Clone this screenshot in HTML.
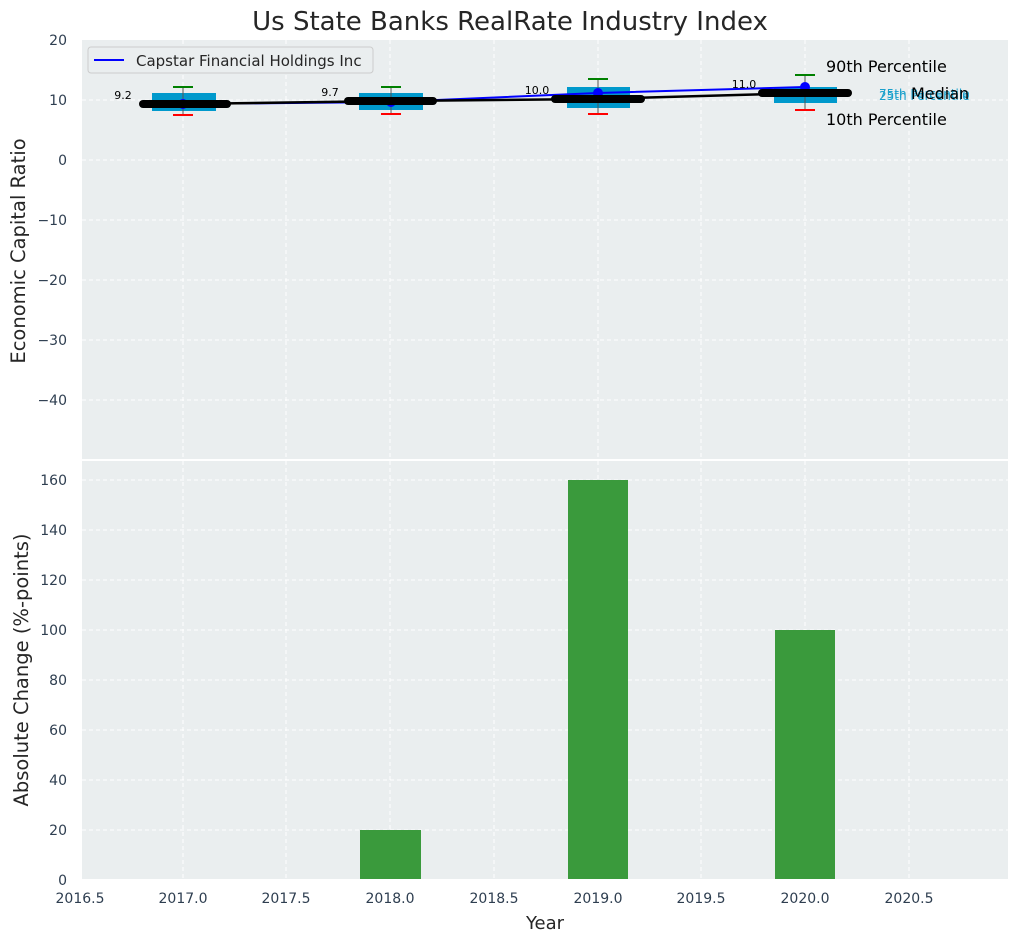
<!DOCTYPE html><html><head><style>body{margin:0;background:#fff}svg{display:block;font-family:"DejaVu Sans","Liberation Sans",sans-serif}</style></head><body>
<svg width="1019" height="942" xmlns="http://www.w3.org/2000/svg">
<rect width="1019" height="942" fill="#fff"/>
<text x="510" y="30" font-size="26" text-anchor="middle" fill="#262626">Us State Banks RealRate Industry Index</text>
<rect x="82" y="40" width="926" height="419" fill="#eaeeef"/>
<rect x="82" y="461" width="926" height="418" fill="#eaeeef"/>
<g stroke="#fff" stroke-dasharray="4,3" stroke-width="1">
<line x1="183" y1="40" x2="183" y2="459"/><line x1="286" y1="40" x2="286" y2="459"/><line x1="390" y1="40" x2="390" y2="459"/><line x1="494" y1="40" x2="494" y2="459"/><line x1="598" y1="40" x2="598" y2="459"/><line x1="701" y1="40" x2="701" y2="459"/><line x1="805" y1="40" x2="805" y2="459"/><line x1="909" y1="40" x2="909" y2="459"/>
<line x1="82" y1="100" x2="1008" y2="100"/><line x1="82" y1="160" x2="1008" y2="160"/><line x1="82" y1="220" x2="1008" y2="220"/><line x1="82" y1="280" x2="1008" y2="280"/><line x1="82" y1="340" x2="1008" y2="340"/><line x1="82" y1="400" x2="1008" y2="400"/>
<line x1="183" y1="461" x2="183" y2="879"/><line x1="286" y1="461" x2="286" y2="879"/><line x1="390" y1="461" x2="390" y2="879"/><line x1="494" y1="461" x2="494" y2="879"/><line x1="598" y1="461" x2="598" y2="879"/><line x1="701" y1="461" x2="701" y2="879"/><line x1="805" y1="461" x2="805" y2="879"/><line x1="909" y1="461" x2="909" y2="879"/>
<line x1="82" y1="480" x2="1008" y2="480"/><line x1="82" y1="530" x2="1008" y2="530"/><line x1="82" y1="580" x2="1008" y2="580"/><line x1="82" y1="630" x2="1008" y2="630"/><line x1="82" y1="680" x2="1008" y2="680"/><line x1="82" y1="730" x2="1008" y2="730"/><line x1="82" y1="780" x2="1008" y2="780"/><line x1="82" y1="830" x2="1008" y2="830"/>
</g>
<g fill="#0099cc">
<rect x="152" y="93" width="64" height="18"/><rect x="359" y="93" width="64" height="17"/><rect x="567" y="87" width="63" height="21"/><rect x="774" y="87" width="63" height="16"/>
</g>
<g stroke="#555" stroke-width="1"><line x1="183" y1="87" x2="183" y2="115"/><line x1="391" y1="87" x2="391" y2="114"/><line x1="598" y1="79" x2="598" y2="114"/><line x1="805" y1="75" x2="805" y2="110"/></g>
<g stroke="green" stroke-width="2"><line x1="173" y1="87" x2="193" y2="87"/><line x1="381" y1="87" x2="401" y2="87"/><line x1="588" y1="79" x2="608" y2="79"/><line x1="795" y1="75" x2="815" y2="75"/></g>
<g stroke="red" stroke-width="2"><line x1="173" y1="115" x2="193" y2="115"/><line x1="381" y1="114" x2="401" y2="114"/><line x1="588" y1="114" x2="608" y2="114"/><line x1="795" y1="110" x2="815" y2="110"/></g>
<polyline points="183,104 391,102 598,93 805,87" fill="none" stroke="#0000ff" stroke-width="2"/>
<g fill="#0000ff"><circle cx="183" cy="104" r="5"/><circle cx="391" cy="102" r="5"/><circle cx="598" cy="93" r="5"/><circle cx="805" cy="87" r="5"/></g>
<polyline points="183,104 391,101 598,99 805,93" fill="none" stroke="#000" stroke-width="2.5"/>
<g stroke="#000" stroke-width="8" stroke-linecap="round"><line x1="143" y1="104" x2="227" y2="104"/><line x1="348" y1="101" x2="433" y2="101"/><line x1="555" y1="99" x2="641" y2="99"/><line x1="762" y1="93" x2="848" y2="93"/></g>
<g font-size="11" fill="#000" text-anchor="middle"><text x="123" y="99">9.2</text><text x="330" y="96">9.7</text><text x="537" y="94">10.0</text><text x="744" y="88">11.0</text></g>
<g font-size="12" fill="#1aa0cc"><text x="879" y="98">75th Percentile</text><text x="879" y="100">25th Percentile</text></g>
<g font-size="16" fill="#000"><text x="826" y="72">90th Percentile</text><text x="911" y="99">Median</text><text x="826" y="125">10th Percentile</text></g>
<rect x="88" y="47" width="285" height="26" rx="3" fill="#eaeeef" stroke="#ccc"/>
<line x1="94" y1="60" x2="124" y2="60" stroke="#0000ff" stroke-width="2"/>
<text x="136" y="66" font-size="15" fill="#262626">Capstar Financial Holdings Inc</text>
<g fill="#3a9a3c"><rect x="360" y="830" width="61" height="49"/><rect x="568" y="480" width="60" height="399"/><rect x="775" y="630" width="60" height="249"/></g>
<line x1="82" y1="460" x2="1008" y2="460" stroke="#fff" stroke-width="2"/>
<g font-size="14" fill="#2e3e50" text-anchor="end">
<text x="67" y="45">20</text><text x="67" y="105">10</text><text x="67" y="165">0</text><text x="67" y="225">−10</text><text x="67" y="285">−20</text><text x="67" y="345">−30</text><text x="67" y="405">−40</text>
<text x="67" y="485">160</text><text x="67" y="535">140</text><text x="67" y="585">120</text><text x="67" y="635">100</text><text x="67" y="685">80</text><text x="67" y="735">60</text><text x="67" y="785">40</text><text x="67" y="835">20</text><text x="67" y="885">0</text>
</g>
<g font-size="14" fill="#2e3e50" text-anchor="middle">
<text x="80" y="903">2016.5</text><text x="183" y="903">2017.0</text><text x="286" y="903">2017.5</text><text x="390" y="903">2018.0</text><text x="494" y="903">2018.5</text><text x="598" y="903">2019.0</text><text x="701" y="903">2019.5</text><text x="805" y="903">2020.0</text><text x="909" y="903">2020.5</text>
</g>
<text x="545" y="929" font-size="18" fill="#262626" text-anchor="middle">Year</text>
<text transform="translate(25,251) rotate(-90)" font-size="19.5" fill="#262626" text-anchor="middle">Economic Capital Ratio</text>
<text transform="translate(28,670) rotate(-90)" font-size="19.5" fill="#262626" text-anchor="middle">Absolute Change (%-points)</text>
</svg></body></html>
